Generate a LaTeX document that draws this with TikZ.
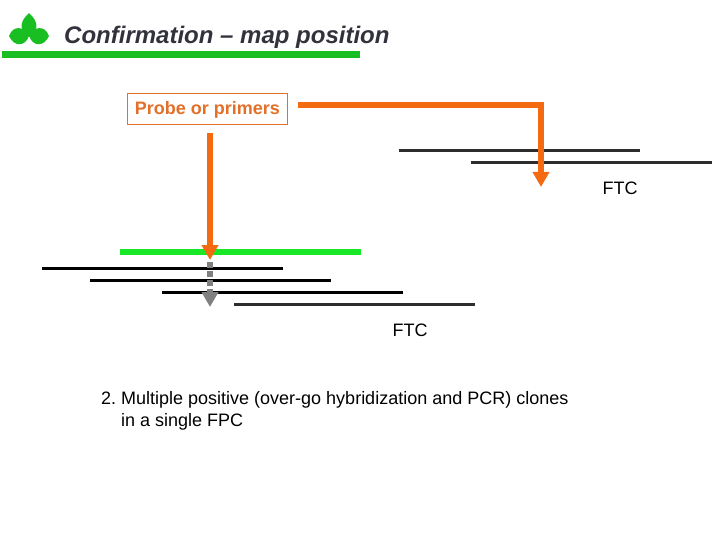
\documentclass[tikz,border=0pt]{standalone}
\usepackage{fontspec}
\setmainfont{Liberation Sans}
\usetikzlibrary{arrows.meta}
\definecolor{orangeA}{RGB}{244,106,16}
\definecolor{orangeT}{RGB}{226,112,40}
\definecolor{greenA}{RGB}{24,190,34}
\definecolor{greenB}{RGB}{24,232,40}
\definecolor{darkA}{RGB}{45,45,45}
\definecolor{greyA}{RGB}{128,128,128}
\definecolor{titleA}{RGB}{50,50,60}
\tikzset{
  clone/.style={line width=3pt,black},
  clonedark/.style={line width=3pt,darkA},
  probe/.style={line width=5.5pt,orangeA,-{Triangle[length=15pt,width=16pt]}},
  body/.style={inner sep=0pt,font=\fontsize{18}{22}\selectfont,text=black},
  leaf/.style={fill=greenA,draw=none}
}
\begin{document}
\begin{tikzpicture}[x=1pt,y=-1pt]
\useasboundingbox (0,0) rectangle (720,540);
% logo
\fill[leaf] (29,13) .. controls (19,22) and (19,31) .. (29,37) .. controls (39,31) and (39,22) .. (29,13) -- cycle;
\fill[leaf] (9,36) .. controls (13,25) and (24,26) .. (29,36) .. controls (25,47) and (14,47) .. (9,36) -- cycle;
\fill[leaf] (49,36) .. controls (45,25) and (34,26) .. (29,36) .. controls (33,47) and (44,47) .. (49,36) -- cycle;
% title
\node[anchor=base west,inner sep=0pt,text=titleA,font=\fontsize{24}{28}\selectfont\bfseries\itshape] (title) at (64,44) {Confirmation – map position};
\coordinate (ruleL) at (2,55); \coordinate (ruleR) at (360,55);
\draw[line width=7pt,greenA] (ruleL) -- (ruleR);
% probe box
\node[draw=orangeT,line width=1pt,fill=white,minimum width=160pt,minimum height=31pt,inner sep=0pt] (box) at (207.5,109) {};
\node[inner sep=0pt,anchor=base,text=orangeT,font=\fontsize{18}{20}\selectfont\bfseries] (boxtext) at (207.5,115) {Probe or primers};
% right group
\coordinate (a1) at (399,150.5); \coordinate (a2) at (640,150.5);
\coordinate (b1) at (471,162.5); \coordinate (b2) at (712,162.5);
\draw[clonedark] (a1) -- (a2);
\draw[clonedark] (b1) -- (b2);
% left group
\coordinate (g1) at (120,252); \coordinate (g2) at (361,252);
\draw[line width=6pt,greenB] (g1) -- (g2);
\coordinate (c1) at (42,268.5); \coordinate (c2) at (283,268.5);
\coordinate (d1) at (90,280.5); \coordinate (d2) at (331,280.5);
\coordinate (e1) at (162,292.5); \coordinate (e2) at (403,292.5);
\coordinate (f1) at (234,304.5); \coordinate (f2) at (475,304.5);
\draw[clone] (c1) -- (c2);
\draw[clone] (d1) -- (d2);
\draw[clone] (e1) -- (e2);
\draw[clonedark] (f1) -- (f2);
% grey dashed arrow
\coordinate (gs) at (210,262); \coordinate (ge) at (210,307);
\draw[line width=6.5pt,greyA,dash pattern=on 6pt off 3pt,-{Triangle[length=15pt,width=16pt]}] (gs) -- (ge);
% orange arrows
\coordinate (p1) at (298,105); \coordinate (p2) at (541,105); \coordinate (p3) at (541,187);
\draw[probe,line join=miter] (p1) -- (p2) -- (p3);
\coordinate (q1) at (210,133); \coordinate (q2) at (210,260);
\draw[probe] (q1) -- (q2);
% labels
\node[body,anchor=base] (ftc1) at (620,195) {FTC};
\node[body,anchor=base] (ftc2) at (410,336) {FTC};
\node[body,anchor=base west] (t0) at (101,404) {2.};
\node[body,anchor=base west] (t1) at (121,404) {Multiple positive (over-go hybridization and PCR) clones};
\node[body,anchor=base west] (t2) at (121,426) {in a single FPC};
\end{tikzpicture}
\end{document}
